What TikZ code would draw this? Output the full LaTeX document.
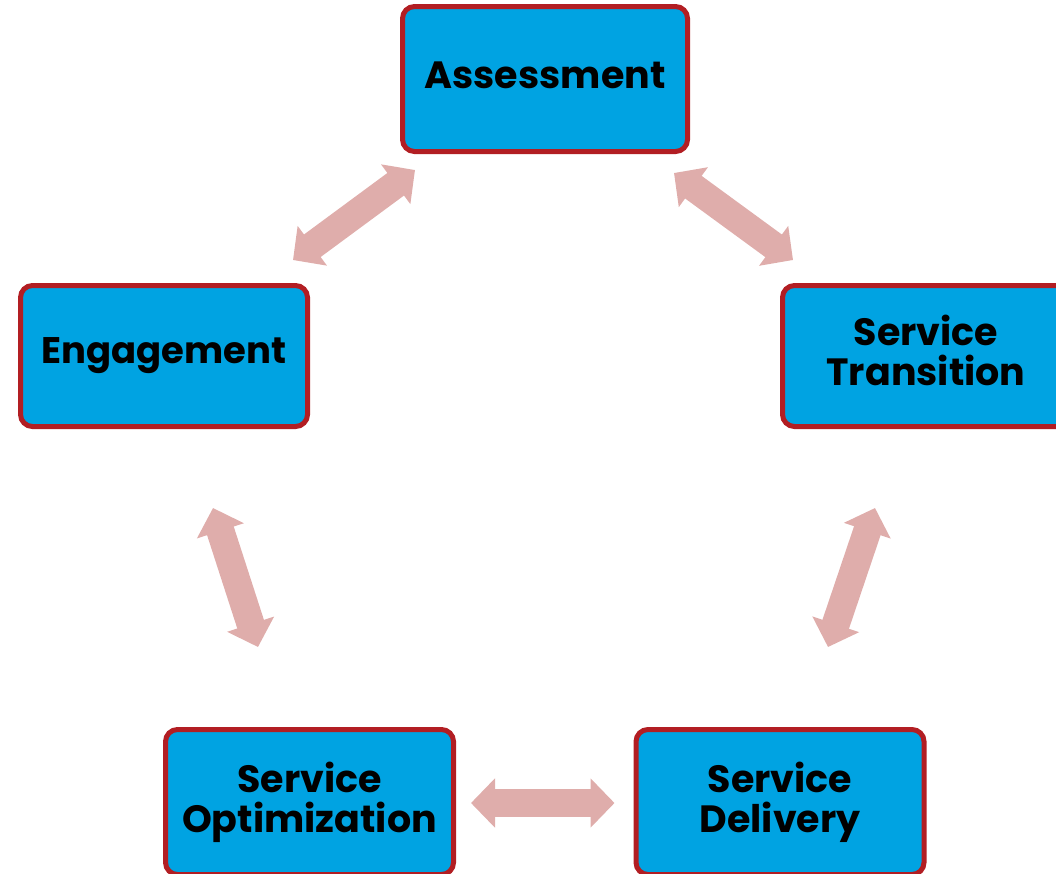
\documentclass[tikz,border=0pt]{standalone}
\usepackage{fontspec}
\newfontfamily\boxfont{Poppins}
\usetikzlibrary{arrows.meta,calc}
\definecolor{boxblue}{RGB}{0,163,226}
\definecolor{boxred}{RGB}{178,30,35}
\definecolor{arrowpink}{RGB}{223,173,171}
\tikzset{
	box/.style={draw=boxred, fill=boxblue, line width=5pt, rounded corners=12pt, outer sep=0pt,
		align=center, font=\boxfont\bfseries\fontsize{38}{40}\selectfont, text=black},
	link/.style={draw=arrowpink, line width=28pt,
		{Triangle[width=48pt,length=24pt]}-{Triangle[width=48pt,length=24pt]}}
}
\begin{document}
\begin{tikzpicture}[x=1pt,y=-1pt]
		\useasboundingbox ( 0, 0 ) rectangle ( 1056, 873 );

		% блоки
		\node [box, minimum width=285, minimum height=145, text depth=8pt] (asm) at ( 545, 79 ) {Assessment};
		\node [box, minimum width=287, minimum height=141, font=\boxfont\bfseries\fontsize{37}{40}\selectfont] (eng) at ( 164, 356 ) {Engagement};
		\node [box, minimum width=287, minimum height=141, text depth=12pt] (trn) at ( 926, 356 ) {Service\\Transition};
		\node [box, minimum width=288, minimum height=145] (opt) at ( 309.5, 802 ) {Service\\Optimization};
		\node [box, minimum width=288, minimum height=145] (dlv) at ( 780, 802 ) {Service\\Delivery};

		% стрелки
		\draw [link] ( $ (eng.north east) + ( -14.5, -25.5 ) $ ) -- ( $ (asm.south west) + ( 12.5, 18.5 ) $ );
		\draw [link] ( $ (asm.south east) + ( -13.5, 21.5 ) $ ) -- ( $ (trn.north west) + ( 10.5, -25.5 ) $ );
		\draw [link] ( $ (eng.south) + ( 49, 81.5 ) $ ) -- ( $ (opt.north) + ( -51.5, -82.5 ) $ );
		\draw [link] ( $ (trn.south west) + ( 92.5, 81.5 ) $ ) -- ( $ (dlv.north) + ( 48, -82.5 ) $ );
		\draw [link] ( $ (opt.east) + ( 17.5, 1 ) $ ) -- ( $ (dlv.west) + ( -21.5, 1 ) $ );
	\end{tikzpicture}
\end{document}
